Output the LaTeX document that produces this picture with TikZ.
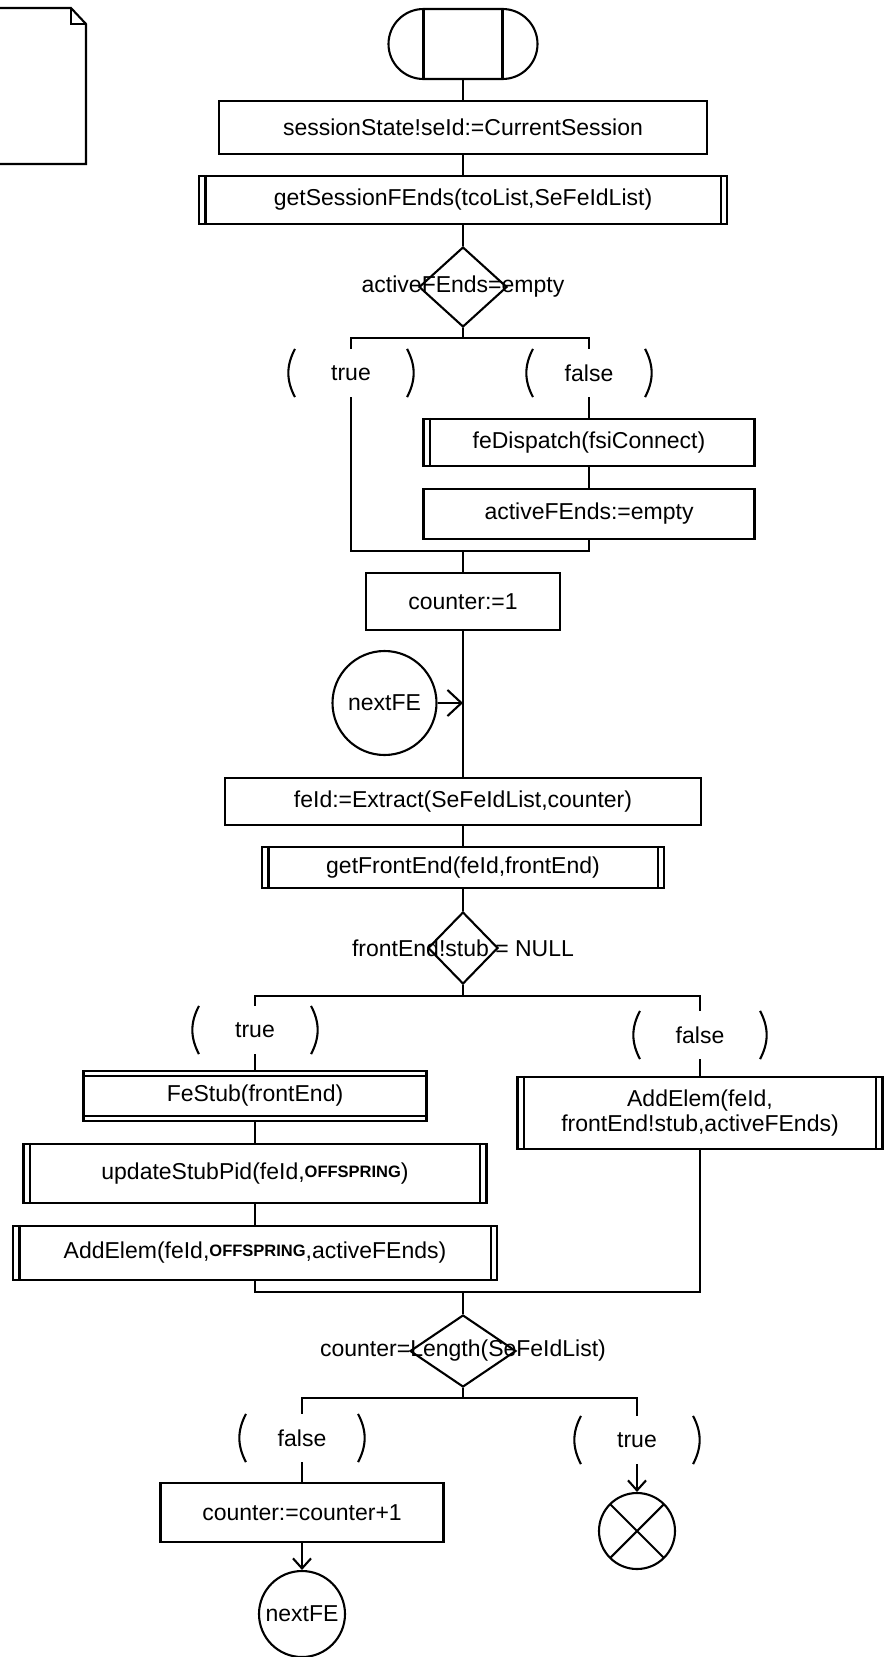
\documentclass[tikz,border=0pt]{standalone}
\usepackage{fontspec}
\setmainfont{Liberation Sans}
\usetikzlibrary{arrows.meta,shapes.geometric,shapes.misc}

\newcommand{\offspr}{{\fontsize{16.5}{16.5}\selectfont\bfseries\raisebox{2pt}{OFFSPRING}}}

\begin{document}
\begin{tikzpicture}[x=1pt,y=1pt,line width=2.1pt,line join=miter,
  every node/.style={font=\fontsize{23}{25}\selectfont},
  task/.style={draw,rectangle,inner sep=0pt,align=center},
  cond/.style={draw,diamond,inner sep=0pt},
  conn/.style={draw,circle,inner sep=0pt,minimum size=#1},
  guard/.style={inner sep=0pt,minimum width=110pt,minimum height=46pt,
    append after command={(\tikzlastnode.north west) edge[bend right=28] (\tikzlastnode.south west)
      (\tikzlastnode.north east) edge[bend left=28] (\tikzlastnode.south east)}},
  jump/.style={-{Straight Barb[length=14pt,width=26pt]}},
  tip/.style={-{Straight Barb[length=10pt,width=18pt]}}]
 \useasboundingbox (0,0) rectangle (885,-1657);
 % page symbol
 \draw (0,-8) -- (71,-8) -- (86,-24) -- (86,-164) -- (0,-164);
 \draw (71,-8) -- (71,-24) -- (86,-24);
 % start
 \node[draw,rounded rectangle,inner sep=0pt,minimum width=149pt,minimum height=70pt] (start) at (463,-44) {};
 \draw ([xshift=-39.5pt]start.north) -- ([xshift=-39.5pt]start.south);
 \draw ([xshift=39.5pt]start.north) -- ([xshift=39.5pt]start.south);
 \node[task,minimum width=488pt,minimum height=53pt] (sst) at (463,-127.5) {sessionState!seId:=CurrentSession};
 \node[task,minimum width=528pt,minimum height=48pt] (gsf) at (463,-200) {getSessionFEnds(tcoList,SeFeIdList)};
 \node[cond,minimum width=88pt,minimum height=80pt,label={center:activeFEnds=empty}] (d1) at (463,-287) {};
 \coordinate (j1) at (463,-338);
 \node[guard] (t1) at (351,-373) {true};
 \node[guard] (f1) at (589,-373) {false};
 \node[task,minimum width=331pt,minimum height=47pt] (fed) at (589,-442.5) {feDispatch(fsiConnect)};
 \node[task,minimum width=331pt,minimum height=50pt] (afe) at (589,-514) {activeFEnds:=empty};
 \coordinate (m1) at (463,-551);
 \node[task,minimum width=194pt,minimum height=57pt] (cnt) at (463,-601.5) {counter:=1};
 \node[conn=104pt] (nfe) at (384.5,-703) {nextFE};
 \coordinate (jn) at (463,-703);
 \node[task,minimum width=476pt,minimum height=47pt] (fid) at (463,-801.5) {feId:=Extract(SeFeIdList,counter)};
 \node[task,minimum width=402pt,minimum height=41pt] (gfe) at (463,-867.5) {getFrontEnd(feId,frontEnd)};
 \node[cond,minimum width=70pt,minimum height=72pt,label={center:frontEnd!stub = NULL}] (d2) at (463,-948) {};
 \coordinate (j2) at (463,-996);
 \node[guard] (t2) at (255,-1030) {true};
 \node[guard,minimum width=118pt] (f2) at (700,-1035) {false};
 \node[task,minimum width=343pt,minimum height=50pt] (fst) at (255,-1096) {FeStub(frontEnd)};
 \node[task,minimum width=463pt,minimum height=59pt] (usp) at (255,-1173.5) {updateStubPid(feId,\offspr)};
 \node[task,minimum width=484pt,minimum height=54pt] (ae1) at (255,-1253) {AddElem(feId,\offspr,activeFEnds)};
 \node[task,minimum width=365pt,minimum height=72pt] (ae2) at (700,-1113) {AddElem(feId,\\frontEnd!stub,activeFEnds)};
 \coordinate (m2) at (463,-1292);
 \node[cond,minimum width=106pt,minimum height=72pt,label={center:counter=Length(SeFeIdList)}] (d3) at (463,-1351) {};
 \coordinate (j3) at (463,-1398);
 \node[guard] (f3) at (302,-1438) {false};
 \node[guard] (t3) at (637,-1440) {true};
 \node[task,minimum width=283pt,minimum height=59pt] (inc) at (302,-1512.5) {counter:=counter+1};
 \node[conn=86pt] (nfe2) at (302,-1614) {nextFE};
 \node[conn=76pt,path picture={
   \draw (path picture bounding box.north west) -- (path picture bounding box.south east)
         (path picture bounding box.north east) -- (path picture bounding box.south west);}] (stop) at (637,-1531) {};
 % procedure bars
 \foreach \n in {gsf,gfe,usp,ae1,ae2}{
   \draw ([xshift=7.5pt]\n.north west) -- ([xshift=7.5pt]\n.south west);
   \draw ([xshift=-7.5pt]\n.north east) -- ([xshift=-7.5pt]\n.south east);}
 \draw ([xshift=7.5pt]fed.north west) -- ([xshift=7.5pt]fed.south west);
 \draw ([yshift=-6pt]fst.north west) -- ([yshift=-6pt]fst.north east);
 \draw ([yshift=6pt]fst.south west) -- ([yshift=6pt]fst.south east);
 % flow lines
 \foreach \a/\b in {start/sst,sst/gsf,gsf/d1,f1/fed,fed/afe,cnt/fid,fid/gfe,gfe/d2,
                    t2/fst,fst/usp,usp/ae1,f2/ae2,f3/inc}
   \draw (\a.south) -- (\b.north);
 \draw (d1.south) -- (j1);
 \draw (t1.north) |- (j1) -| (f1.north);
 \draw (t1.south) |- (m1) -| (afe.south);
 \draw (m1) -- (cnt.north);
 \draw[jump] (nfe) -- (jn);
 \draw (d2.south) -- (j2);
 \draw (t2.north) |- (j2) -| (f2.north);
 \draw (ae1.south) |- (m2) -| (ae2.south);
 \draw (m2) -- (d3.north);
 \draw (d3.south) -- (j3);
 \draw (f3.north) |- (j3) -| (t3.north);
 \draw[tip] (inc) -- (nfe2);
 \draw[tip] (t3) -- (stop);
\end{tikzpicture}
\end{document}
